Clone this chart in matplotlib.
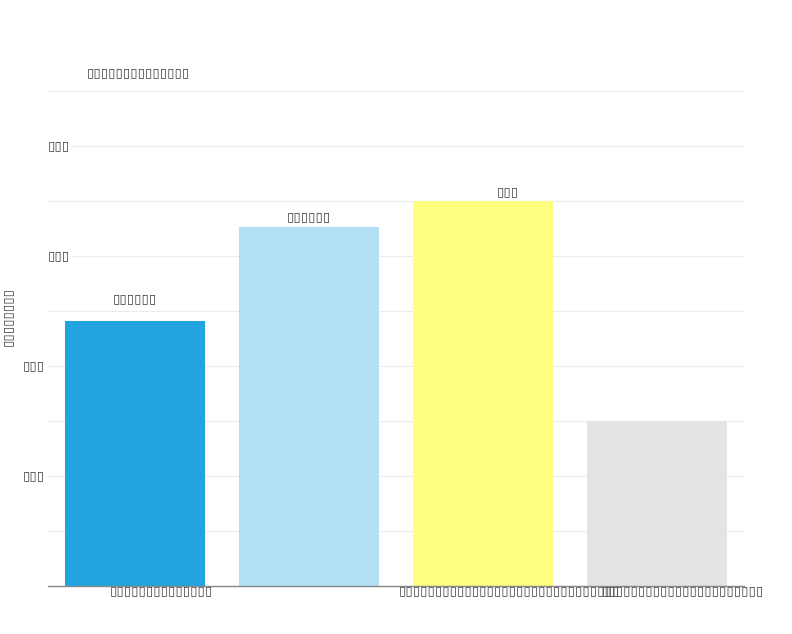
import matplotlib
matplotlib.use("Agg")
import matplotlib.pyplot as plt
import matplotlib.transforms as mtransforms
import numpy as np

# the text in the reference shows only as empty boxes, so it is kept that way
B = "▯"
categories = [B * 14, "", B * 30, B * 22]
values = [4.82, 6.53, 7.0, 3.0]
value_labels = [B * 6, B * 6, B * 3, ""]
colors = ["#21a4e0", "#b2e0f4", "#fefe80", "#e4e4e4"]
tick_values = [2, 4, 6, 8]
tick_labels = [B * 3, B * 3, B * 3, B * 3]
title = B * 14
ylabel = B * 8

TEXT = "#444444"
FS = 9.6

fig = plt.figure(figsize=(7.92, 6.34), dpi=100)
ax = fig.add_axes([48 / 792, 1 - 586 / 634, 696 / 792, 495 / 634])

x = np.arange(len(values))
ax.bar(x, values, width=0.8, color=colors, zorder=2)
ax.set_xlim(-0.5, 3.5)
ax.set_ylim(0, 9)

ax.set_yticks(np.arange(1, 10))
ax.set_yticklabels([])
ax.tick_params(axis="y", length=0)
ax.grid(axis="y", color="#ececec", linewidth=0.8, zorder=0)
for s in ["left", "right", "top"]:
    ax.spines[s].set_visible(False)
ax.spines["bottom"].set_color("#888888")
ax.spines["bottom"].set_linewidth(1)

# y tick labels: the lower two sit left of the axis, the upper two just inside it
trans = mtransforms.blended_transform_factory(ax.transAxes, ax.transData)
for v, lab in zip(tick_values, tick_labels):
    if v < 5:
        ax.text(-0.004, v, lab, transform=trans, ha="right", va="center",
                fontsize=FS, color=TEXT)
    else:
        ax.text(0.0, v, lab, transform=trans, ha="left", va="center",
                fontsize=FS, color=TEXT, zorder=3,
                bbox=dict(facecolor="white", edgecolor="none", pad=1.5))

# x labels are shifted right of the bar centres
ax.set_xticks(x)
ax.set_xticklabels(categories, fontsize=FS, color=TEXT)
ax.tick_params(axis="x", length=0, pad=-1)
shift = mtransforms.ScaledTranslation(26 / 100, 0, fig.dpi_scale_trans)
for lab in ax.get_xticklabels():
    lab.set_transform(lab.get_transform() + shift)

label_offsets = [(0, 22), (0, 10), (25, 9), (0, 0)]
for xi, v, lab, off in zip(x, values, value_labels, label_offsets):
    if lab:
        ax.annotate(lab, (xi, v), xytext=off, textcoords="offset pixels",
                    ha="center", va="center", fontsize=FS, color=TEXT)

fig.text(87 / 792, 1 - 73 / 634, title, ha="left", va="center",
         fontsize=FS, color=TEXT)
fig.text(7 / 792, 1 - 317 / 634, ylabel, ha="center", va="center",
         rotation=90, fontsize=FS, color=TEXT)

fig.savefig("out.png", dpi=100, facecolor="white")
